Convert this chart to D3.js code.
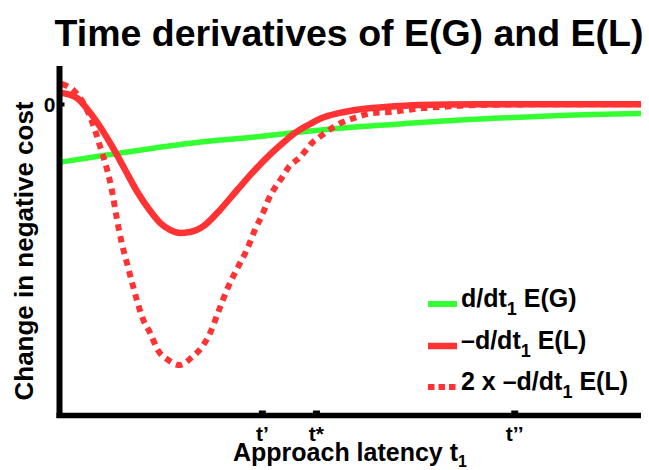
<!DOCTYPE html>
<html>
<head>
<meta charset="utf-8">
<script src="https://cdn.jsdelivr.net/npm/d3@7"></script>
<style>
  body { margin: 0; background: #fff; }
  svg { display: block; font-family: "Liberation Sans", Arial, Helvetica, sans-serif; font-weight: bold; }
</style>
</head>
<body>
<svg id="chart" width="649" height="470"></svg>
<script>
// approach latency (arbitrary units, 0..10) and the curves
const tGain = [0.04, 0.70, 1.64, 2.42, 3.36, 4.14, 5.08, 5.85, 6.89, 7.57, 8.61, 10];
const dGain = [-0.446, -0.40, -0.338, -0.292, -0.254, -0.215, -0.177, -0.154, -0.123, -0.108, -0.088, -0.073];

const tLoss = [0.04, 0.30, 0.49, 0.70, 0.92, 1.13, 1.35, 1.56, 1.73, 1.90, 2.07, 2.24, 2.50, 2.76,
               3.07, 3.36, 3.65, 3.88, 4.05, 4.31, 4.51, 4.82, 5.08, 5.60, 6.20, 7.23, 8.61, 10];
const dLoss = [0.085, 0.046, -0.046, -0.177, -0.338, -0.508, -0.685, -0.823, -0.915, -0.969, -0.992, -0.985, -0.931, -0.815,
               -0.654, -0.508, -0.377, -0.285, -0.223, -0.154, -0.108, -0.069, -0.046, -0.023, -0.008, -0.003, -0.002, -0.002];

const tLoss2 = [0.04, 0.27, 0.49, 0.61, 0.70, 0.82, 0.90, 0.99, 1.07, 1.16, 1.25, 1.33, 1.42, 1.56, 1.69, 1.87,
                2.07, 2.28, 2.45, 2.59, 2.73, 2.90, 3.07, 3.22, 3.36, 3.50, 3.59, 3.83, 3.93, 4.14, 4.36, 4.45,
                4.77, 5.12, 5.39, 5.68, 5.98, 6.25, 6.54, 7.23, 8.61, 10];
const dLoss2 = [0.154, 0.092, -0.062, -0.20, -0.331, -0.508, -0.662, -0.892, -1.069, -1.223, -1.377, -1.508, -1.638, -1.762, -1.892, -1.969,
                -2.008, -1.946, -1.869, -1.762, -1.60, -1.408, -1.254, -1.123, -0.969, -0.838, -0.738, -0.562, -0.492, -0.408, -0.292, -0.262,
                -0.162, -0.10, -0.069, -0.062, -0.046, -0.031, -0.023, -0.008, -0.002, -0.002];

const xTicks = [3.48, 4.41, 7.82];
const xTickLabels = ["t\u2019", "t*", "t\u2019\u2019"];
const yTicks = [0];
const yTickLabels = ["0"];

const legendLabels = [
  { pre: "d/dt", post: " E(G)" },
  { pre: "\u2013d/dt", post: " E(L)" },
  { pre: "2 x \u2013d/dt", post: " E(L)" }
];

const green = "#33ff33";
const red = "#ff3333";
const font = '"Liberation Sans", Arial, Helvetica, sans-serif';

const svg = d3.select("#chart");
svg.append("rect").attr("width", 649).attr("height", 470).attr("fill", "#fff");

const x = d3.scaleLinear().domain([0, 10]).range([59.5, 641]);
const y = d3.scaleLinear().domain([-2.396, 0.292]).range([415.5, 66]);

// title
svg.append("text")
  .attr("x", 349).attr("y", 46)
  .attr("text-anchor", "middle")
  .attr("font-size", 37.5)
  .text("Time derivatives of E(G) and E(L)");

// curves
const line = d3.line()
  .x(d => x(d[0]))
  .y(d => y(d[1]))
  .curve(d3.curveMonotoneX);

svg.append("path")
  .attr("d", line(d3.zip(tGain, dGain)))
  .attr("fill", "none").attr("stroke", green).attr("stroke-width", 5.5);

svg.append("path")
  .attr("d", line(d3.zip(tLoss, dLoss)))
  .attr("fill", "none").attr("stroke", red).attr("stroke-width", 6.5);

svg.append("path")
  .attr("d", line(d3.zip(tLoss2, dLoss2)))
  .attr("fill", "none").attr("stroke", red).attr("stroke-width", 6)
  .attr("stroke-dasharray", "6.5,5.5");

// axes
const xAxis = svg.append("g")
  .attr("transform", "translate(0," + y.range()[0] + ")")
  .call(d3.axisBottom(x).tickValues(xTicks).tickSizeInner(-5).tickSizeOuter(0)
        .tickFormat((d, i) => xTickLabels[i]))
  .attr("font-family", font);

xAxis.select(".domain")
  .attr("d", "M56.5,0H641")
  .attr("stroke", "#000").attr("stroke-width", 5.5);
xAxis.selectAll(".tick line").attr("stroke", "#000").attr("stroke-width", 7);
xAxis.selectAll(".tick text")
  .attr("y", 25).attr("dy", 0)
  .attr("fill", "#000")
  .attr("font-size", 21).attr("font-weight", "bold");

const yAxis = svg.append("g")
  .attr("transform", "translate(" + x.range()[0] + ",0)")
  .call(d3.axisLeft(y).tickValues(yTicks).tickSizeInner(-5).tickSizeOuter(0)
        .tickFormat((d, i) => yTickLabels[i]))
  .attr("font-family", font);

yAxis.select(".domain")
  .attr("d", "M0,418V66")
  .attr("stroke", "#000").attr("stroke-width", 6);
yAxis.selectAll(".tick line").attr("stroke", "#000").attr("stroke-width", 4);
yAxis.selectAll(".tick text")
  .attr("x", -4).attr("dy", 8)
  .attr("fill", "#000")
  .attr("font-size", 21).attr("font-weight", "bold");

// axis titles
svg.append("text")
  .attr("transform", "translate(33,251) rotate(-90)")
  .attr("text-anchor", "middle")
  .attr("font-size", 26)
  .text("Change in negative cost");

const xl = svg.append("text")
  .attr("x", 233).attr("y", 461)
  .attr("font-size", 25);
xl.append("tspan").text("Approach latency t");
xl.append("tspan").attr("font-size", 16).attr("dy", 6).text("1");

// legend
const legendRows = [304, 346, 387];
const legendStyles = [
  { color: green, width: 6, dash: null },
  { color: red, width: 6.5, dash: null },
  { color: red, width: 6, dash: "6.5,4" }
];

const legend = svg.append("g");
legendRows.forEach((ly, i) => {
  legend.append("line")
    .attr("x1", 428).attr("x2", 457)
    .attr("y1", ly).attr("y2", ly)
    .attr("stroke", legendStyles[i].color)
    .attr("stroke-width", legendStyles[i].width)
    .attr("stroke-dasharray", legendStyles[i].dash);

  const t = legend.append("text")
    .attr("x", 461).attr("y", ly + 3)
    .attr("font-size", 25);
  t.append("tspan").text(legendLabels[i].pre);
  t.append("tspan").attr("font-size", 18).attr("dy", 8).text("1");
  t.append("tspan").attr("dy", -8).text(legendLabels[i].post);
});
</script>
</body>
</html>
